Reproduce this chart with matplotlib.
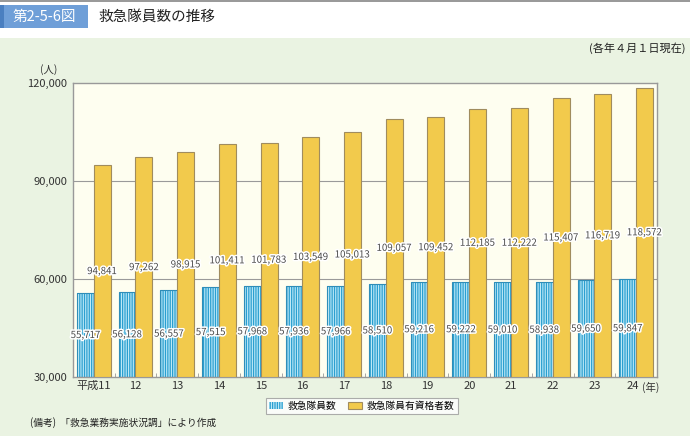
import numpy as np
import matplotlib
matplotlib.use("Agg")
import matplotlib.pyplot as plt
import matplotlib.patheffects as pe
import matplotlib.transforms as mtransforms
from matplotlib.patches import Rectangle

plt.rcParams['font.family'] = ['Noto Sans CJK JP', 'DejaVu Sans']
plt.rcParams['hatch.linewidth'] = 0.9

years = ["平成11", "12", "13", "14", "15", "16", "17", "18", "19", "20", "21", "22", "23", "24"]
members = [55717, 56128, 56557, 57515, 57968, 57936, 57966, 58510, 59216, 59222, 59010, 58938, 59650, 59847]
qualified = [94841, 97262, 98915, 101411, 101783, 103549, 105013, 109057, 109452, 112185, 112222, 115407, 116719, 118572]
yticks = [30000, 60000, 90000, 120000]

fig = plt.figure(figsize=(6.9, 4.36), dpi=100)
fig.patch.set_facecolor("white")
# green background below header
fig.patches.append(Rectangle((0, 0), 1, 1 - 38/436, transform=fig.transFigure,
                             facecolor="#eaf3e2", edgecolor="none", zorder=-10))
fig.patches.append(Rectangle((0, 1 - 2/436), 1, 2/436, transform=fig.transFigure,
                             facecolor="#9a9a9a", edgecolor="none", zorder=-10))
# title box
fig.patches.append(Rectangle((0, 1 - 28/436), 88/690, 23/436, transform=fig.transFigure,
                             facecolor="#6f9fd8", edgecolor="none"))
fig.patches.append(Rectangle((0, 1 - 28/436), 4/690, 23/436, transform=fig.transFigure,
                             facecolor="#4a7fc0", edgecolor="none"))
fig.text(44/690, 1 - 16.5/436, "第2-5-6図", color="white", fontsize=10.5,
         ha="center", va="center")
fig.text(98/690, 1 - 17/436, "救急隊員数の推移", color="#222222", fontsize=10.5,
         ha="left", va="center")
fig.text(685/690, 1 - 48/436, "(各年４月１日現在)", color="#222222", fontsize=8,
         ha="right", va="center")
fig.text(30/690, 1 - 423/436, "(備考)  「救急業務実施状況調」により作成", color="#222222",
         fontsize=7, ha="left", va="center")

ax = fig.add_axes([73/690, 59/436, 584/690, 294/436])
ax.set_facecolor("#fefef0")
x = np.arange(len(years))
w = 0.41
b1 = ax.bar(x - 0.2, np.array(members) - 30000, w, bottom=30000, facecolor="#bfe9f7",
            edgecolor="#2a9fd0", hatch="|||||||", linewidth=0.0, zorder=2,
            label="救急隊員数")
ax.bar(x - 0.2, np.array(members) - 30000, w, bottom=30000, facecolor="none",
       edgecolor="#2f8db8", linewidth=0.8, zorder=3)
b2 = ax.bar(x + 0.2, np.array(qualified) - 30000, w, bottom=30000, facecolor="#f2ca4c",
            edgecolor="#a08c5e", linewidth=0.8, zorder=3, label="救急隊員有資格者数")

stroke = [pe.withStroke(linewidth=2.2, foreground="white")]
for i in range(len(years)):
    ax.text(x[i] - 0.2, (members[i] + 30000) / 2, f"{members[i]:,}", ha="center", va="center",
            fontsize=7, color="#4a4a4a", path_effects=stroke, zorder=5)
    ax.text(x[i] + 0.2, (qualified[i] + 30000) / 2, f"{qualified[i]:,}", ha="center", va="center",
            fontsize=7, color="#4a4a4a", path_effects=stroke, zorder=5)

ax.set_xlim(-0.5, len(years) - 0.5)
ax.set_ylim(30000, 120000)
ax.set_yticks(yticks)
ax.set_yticklabels([f"{v:,}" for v in yticks])
ax.set_xticks(x)
ax.set_xticklabels(years)
ax.set_xticks(np.arange(len(years) + 1) - 0.5, minor=True)
ax.tick_params(axis="x", which="major", length=0, labelsize=8, colors="#333333", pad=3)
ax.tick_params(axis="x", which="minor", length=3, direction="in", color="#999999")
ax.tick_params(axis="y", length=0, labelsize=8, colors="#333333", pad=4)
# nudge last year label left to make room for the unit
last = ax.get_xticklabels()[-1]
last.set_transform(last.get_transform() + mtransforms.ScaledTranslation(-3/100, 0, fig.dpi_scale_trans))
for v in yticks[1:3]:
    ax.axhline(v, color="#9a9a9a", linewidth=0.8, zorder=1)
for s in ax.spines.values():
    s.set_color("#999999")
    s.set_linewidth(1.0)

ax.text((642 - 73) / 584, -10/294, "(年)", transform=ax.transAxes, fontsize=7.5,
        color="#333333", ha="left", va="center")
fig.text(49/690, 1 - 70/436, "(人)", color="#333333", fontsize=7.5, ha="center", va="center")

leg = fig.legend(handles=[b1, b2], loc="center", bbox_to_anchor=(362/690, 1 - 406/436),
                 ncol=2, fontsize=7, frameon=True, fancybox=False, handlelength=1.4,
                 handleheight=0.8, columnspacing=1.2, borderpad=0.35, handletextpad=0.5)
leg.get_frame().set_edgecolor("#999999")
leg.get_frame().set_linewidth(0.8)

fig.savefig("out.png", dpi=100, facecolor=fig.get_facecolor())
